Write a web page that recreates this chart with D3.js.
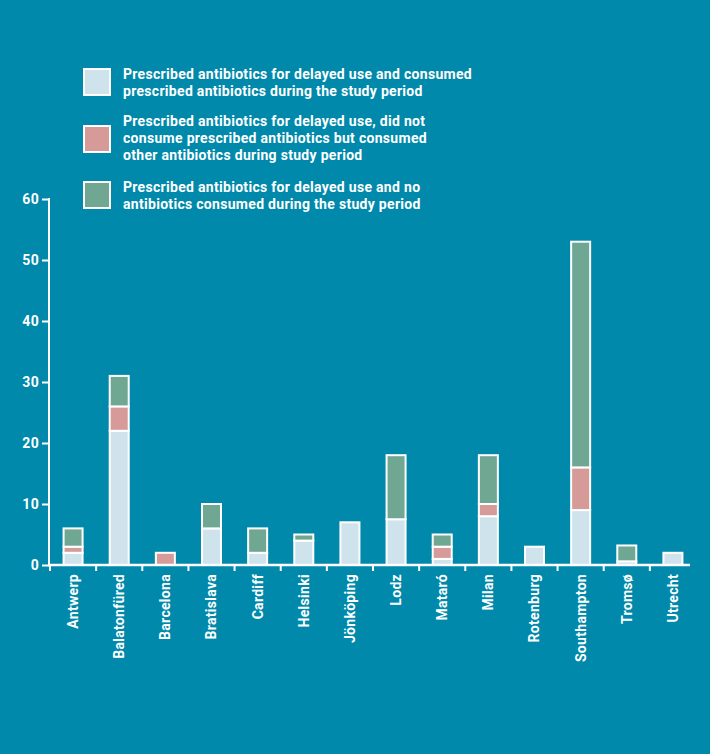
<!DOCTYPE html>
<html><head><meta charset="utf-8">
<script src="https://cdn.jsdelivr.net/npm/d3@7"></script>
<style>
html,body{margin:0;padding:0;background:#0089ab;}
svg{display:block;}
text{font-family:"Roboto","Liberation Sans",sans-serif;font-weight:bold;fill:#fff;letter-spacing:0.3px;}
</style></head>
<body>
<svg id="chart" width="710" height="754"></svg>
<script>
const categories = ["Antwerp","Balatonfüred","Barcelona","Bratislava","Cardiff","Helsinki","Jönköping","Lodz","Mataró","Milan","Rotenburg","Southampton","Tromsø","Utrecht"];
const consumedPrescribed = [2,22,0,6,2,4,7,7.5,1,8,3,9,0.6,2];
const consumedOther      = [1,4,2,0,0,0,0,0,2,2,0,7,0,0];
const noneConsumed       = [3,5,0,4,4,1,0,10.5,2,8,0,37,2.6,0];
const yTicks = [0,10,20,30,40,50,60];
const seriesNames = [
  ["Prescribed antibiotics for delayed use and consumed","prescribed antibiotics during the study period"],
  ["Prescribed antibiotics for delayed use, did not","consume prescribed antibiotics but consumed","other antibiotics during study period"],
  ["Prescribed antibiotics for delayed use and no","antibiotics consumed during the study period"]
];
const colors = ["#cfe3ed","#d69a98","#6fa793"];
const FONT = "Roboto, sans-serif";
const FS = 14;

const svg = d3.select("#chart");
svg.append("rect").attr("width",710).attr("height",754).attr("fill","#0089ab");

const keys = ["a","b","c"];
const rows = categories.map((c,i)=>({cat:c,a:consumedPrescribed[i],b:consumedOther[i],c:noneConsumed[i]}));
const stacked = d3.stack().keys(keys)(rows);

const x = d3.scaleBand().domain(categories).range([50,696]).padding(0);
const y = d3.scaleLinear().domain([0,60]).range([565,199]);

// bars
const barW = 19;
stacked.forEach((s,si)=>{
  svg.append("g").selectAll("rect").data(s.filter(d=>d[1]-d[0]>0)).join("rect")
    .attr("x",d=>x(d.data.cat)+x.bandwidth()/2-barW/2)
    .attr("width",barW)
    .attr("y",d=>y(d[1]))
    .attr("height",d=>y(d[0])-y(d[1]))
    .attr("fill",colors[si])
    .attr("stroke","#fff").attr("stroke-width",2);
});

// y axis
const yAxis = d3.axisLeft(y).tickValues(yTicks).tickSize(7).tickPadding(3);
const gy = svg.append("g").attr("transform","translate(49,0)").call(yAxis);
gy.select(".domain").remove();
gy.selectAll(".tick line").attr("stroke","#fff").attr("stroke-width",2);
gy.selectAll(".tick text").attr("font-size",FS).attr("font-family",FONT).attr("font-weight","bold").attr("fill","#fff");
svg.append("line").attr("x1",49).attr("x2",49).attr("y1",y(60)-1).attr("y2",y(0)+1).attr("stroke","#fff").attr("stroke-width",2);

// x axis
const xAxis = d3.axisBottom(x).tickSize(0).tickPadding(9);
const gx = svg.append("g").attr("transform",`translate(0,${y(0)})`).call(xAxis);
gx.select(".domain").remove();
gx.selectAll(".tick text")
  .attr("font-size",FS).attr("font-family",FONT).attr("font-weight","bold").attr("fill","#fff")
  .attr("transform","rotate(-90)").attr("text-anchor","end").attr("dx","-9").attr("dy","0.35em").attr("y",0);
svg.append("g").selectAll("line").data(categories).join("line")
  .attr("x1",d=>x(d)).attr("x2",d=>x(d)).attr("y1",y(0)).attr("y2",y(0)+6)
  .attr("stroke","#fff").attr("stroke-width",2);
svg.append("line").attr("x1",48).attr("x2",690).attr("y1",y(0)).attr("y2",y(0)).attr("stroke","#fff").attr("stroke-width",2.5);

// legend
const legendTops = [68,125,181];
seriesNames.forEach((lines,i)=>{
  const g = svg.append("g");
  g.append("rect").attr("x",84).attr("y",legendTops[i]+1).attr("width",26).attr("height",26)
    .attr("fill",colors[i]).attr("stroke","#fff").attr("stroke-width",2);
  const baseY = i===1 ? legendTops[i]-9 : legendTops[i]+1;
  lines.forEach((t,j)=>{
    g.append("text").attr("x",123).attr("y",baseY+10+j*17).attr("font-size",FS).text(t);
  });
});
</script>
</body></html>
